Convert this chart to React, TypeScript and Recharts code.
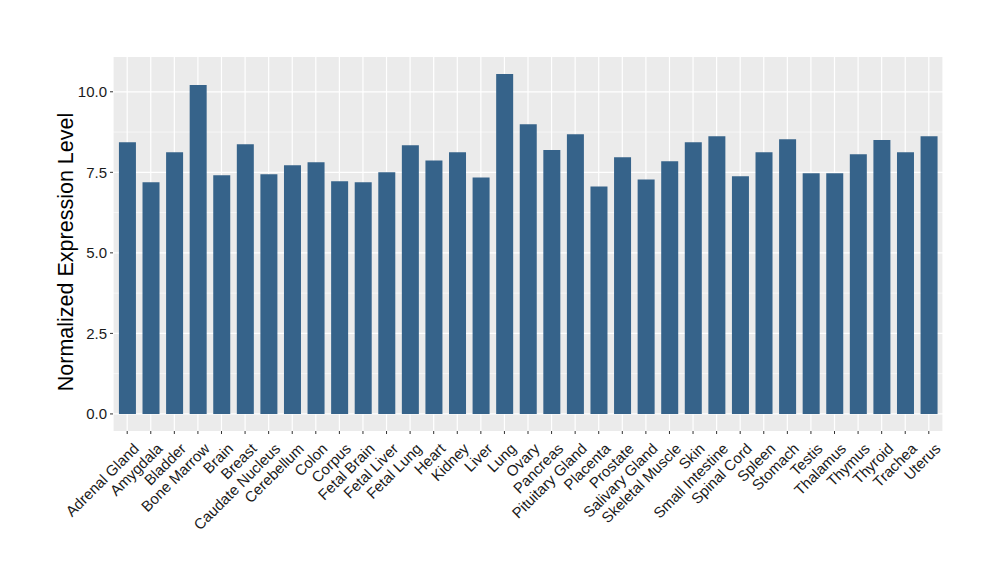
import { BarChart, Bar, XAxis, YAxis, CartesianGrid } from 'recharts'

const tissues = [
  'Adrenal Gland', 'Amygdala', 'Bladder', 'Bone Marrow', 'Brain', 'Breast',
  'Caudate Nucleus', 'Cerebellum', 'Colon', 'Corpus', 'Fetal Brain', 'Fetal Liver',
  'Fetal Lung', 'Heart', 'Kidney', 'Liver', 'Lung', 'Ovary', 'Pancreas',
  'Pituitary Gland', 'Placenta', 'Prostate', 'Salivary Gland', 'Skeletal Muscle',
  'Skin', 'Small Intestine', 'Spinal Cord', 'Spleen', 'Stomach', 'Testis',
  'Thalamus', 'Thymus', 'Thyroid', 'Trachea', 'Uterus',
]

const expression = [
  8.43, 7.19, 8.12, 10.21, 7.41, 8.37, 7.44, 7.72, 7.81, 7.22, 7.19, 7.5,
  8.34, 7.87, 8.12, 7.34, 10.55, 8.99, 8.19, 8.68, 7.06, 7.97, 7.28, 7.84,
  8.43, 8.62, 7.38, 8.12, 8.53, 7.47, 7.47, 8.06, 8.5, 8.12, 8.62,
]

const majorTicks = [0, 2.5, 5, 7.5, 10]
const minorTicks = [1.25, 3.75, 6.25, 8.75]

const data = tissues.map((t, i) => ({ tissue: t, value: expression[i] }))

const FONT = '"Liberation Sans", Arial, sans-serif'

function XTick(props: any) {
  const { x, y, payload } = props
  return (
    <g transform={`translate(${x + 5},${y + 6}) rotate(-45)`}>
      <text x={0} y={0} dy="0.72em" textAnchor="end" fontSize={15} fontFamily={FONT} fill="#1a1a1a">
        {payload.value}
      </text>
    </g>
  )
}

function YTitle(props: any) {
  const { viewBox } = props
  const cx = viewBox.x + 73
  const cy = 252
  return (
    <text
      x={cx}
      y={cy}
      transform={`rotate(-90, ${cx}, ${cy})`}
      textAnchor="middle"
      fontSize={21.5}
      fontFamily={FONT}
      fill="#000"
    >
      Normalized Expression Level
    </text>
  )
}

export default function App() {
  return (
    <div style={{ position: 'absolute', left: 0, top: 0, background: '#fff' }}>
      <BarChart
        width={1000}
        height={580}
        data={data}
        margin={{ top: 57, right: 57, bottom: 0, left: 0 }}
        barCategoryGap="15%"
      >
        <CartesianGrid
          fill="#EBEBEB"
          stroke="#ffffff"
          strokeWidth={0.6}
          vertical={false}
          horizontalValues={minorTicks}
        />
        <CartesianGrid
          stroke="#ffffff"
          strokeWidth={1.2}
          horizontalValues={majorTicks}
        />
        <XAxis
          dataKey="tissue"
          interval={0}
          height={149}
          padding={{ left: 2.4, right: 2.4 }}
          axisLine={false}
          tickLine={{ stroke: '#333333' }}
          tickSize={3}
          tick={<XTick />}
        />
        <YAxis
          width={113}
          domain={[-0.53, 11.08]}
          ticks={majorTicks}
          tickFormatter={(v: number) => v.toFixed(1)}
          axisLine={false}
          tickLine={{ stroke: '#333333' }}
          tickSize={3}
          tickMargin={3}
          allowDataOverflow
          tick={{ fontSize: 15, fontFamily: FONT, fill: '#1a1a1a' }}
          label={<YTitle />}
        />
        <Bar dataKey="value" fill="#36638A" isAnimationActive={false} />
      </BarChart>
    </div>
  )
}
